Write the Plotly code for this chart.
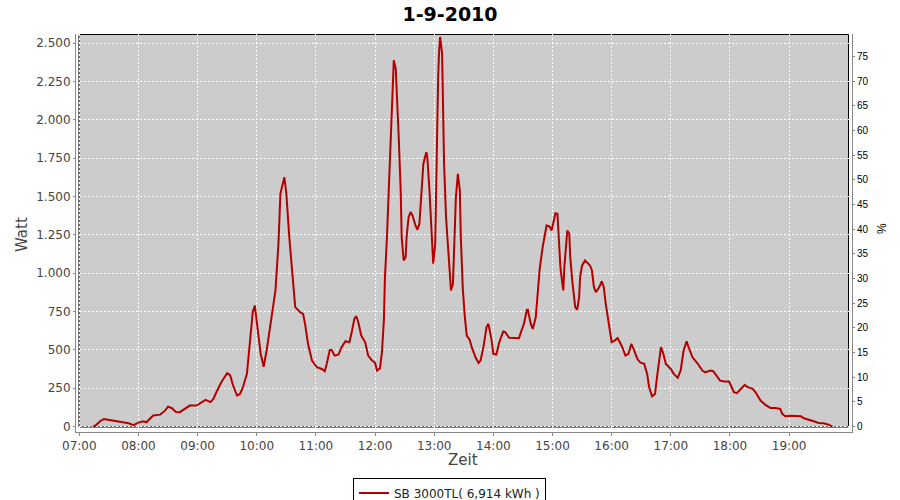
import plotly.graph_objects as go

# ---------------- data ----------------
day = "2010-09-01"
times = [
    "07:14", "07:17", "07:21", "07:25", "07:29", "07:35", "07:40", "07:45", "07:50", "07:55",
    "08:00", "08:05", "08:08", "08:15", "08:22", "08:27", "08:30", "08:34", "08:38", "08:42",
    "08:47", "08:52", "08:59", "09:04", "09:08", "09:13", "09:16", "09:19", "09:24", "09:30",
    "09:33", "09:36", "09:40", "09:43", "09:46", "09:50", "09:53", "09:56", "09:58", "10:01",
    "10:04", "10:07", "10:10", "10:14", "10:19", "10:22", "10:24", "10:28", "10:30", "10:33",
    "10:36", "10:39", "10:44", "10:47", "10:49", "10:52", "10:56", "11:01", "11:06", "11:09",
    "11:11", "11:14", "11:16", "11:19", "11:23", "11:26", "11:30", "11:34", "11:36", "11:39",
    "11:41", "11:43", "11:46", "11:50", "11:53", "11:57", "12:00", "12:02", "12:05", "12:07",
    "12:09", "12:10", "12:12", "12:14", "12:16", "12:17", "12:18", "12:19", "12:21", "12:22",
    "12:24", "12:26", "12:27", "12:29", "12:31", "12:32", "12:34", "12:36", "12:38", "12:41",
    "12:43", "12:45", "12:47", "12:49", "12:52", "12:53", "12:55", "12:58", "12:59", "13:01",
    "13:02", "13:04", "13:05", "13:06", "13:08", "13:09", "13:10", "13:12", "13:15", "13:17",
    "13:19", "13:20", "13:22", "13:24", "13:26", "13:27", "13:29", "13:31", "13:33", "13:36",
    "13:38", "13:42", "13:45", "13:47", "13:50", "13:53", "13:55", "13:58", "14:00", "14:03",
    "14:06", "14:10", "14:12", "14:16", "14:21", "14:26", "14:28", "14:31", "14:34", "14:35",
    "14:38", "14:40", "14:43", "14:45", "14:47", "14:50", "14:52", "14:54", "14:57", "14:59",
    "15:01", "15:03", "15:05", "15:06", "15:08", "15:10", "15:11", "15:12", "15:14", "15:15",
    "15:17", "15:18", "15:20", "15:22", "15:23", "15:25", "15:27", "15:28", "15:30", "15:33",
    "15:35", "15:38", "15:40", "15:42", "15:44", "15:47", "15:50", "15:52", "15:54", "15:56",
    "15:59", "16:00", "16:03", "16:06", "16:10", "16:14", "16:17", "16:20", "16:22", "16:26",
    "16:29", "16:33", "16:36", "16:38", "16:41", "16:44", "16:46", "16:48", "16:50", "16:52",
    "16:55", "17:00", "17:03", "17:07", "17:10", "17:13", "17:16", "17:18", "17:22", "17:27",
    "17:32", "17:35", "17:40", "17:43", "17:46", "17:50", "17:54", "17:59", "18:01", "18:04",
    "18:07", "18:11", "18:15", "18:18", "18:23", "18:26", "18:31", "18:36", "18:41", "18:46",
    "18:51", "18:53", "18:56", "19:01", "19:08", "19:12", "19:15", "19:20", "19:25", "19:30",
    "19:35", "19:40", "19:44",
]
watts = [
    0, 10, 35, 50, 45, 38, 33, 30, 22, 10,
    26, 35, 28, 72, 78, 104, 130, 120, 95, 94,
    115, 137, 137, 159, 174, 160, 181, 224, 289, 348,
    335, 268, 202, 213, 257, 344, 561, 750, 790, 648,
    474, 390, 496, 670, 890, 1192, 1519, 1627, 1519, 1236,
    975, 779, 746, 735, 670, 540, 431, 387, 376, 361,
    409, 500, 500, 463, 470, 518, 557, 550, 605, 703,
    720, 681, 594, 550, 463, 431, 416, 366, 380, 485,
    700, 970, 1225, 1584, 1845, 2052, 2215, 2389, 2335, 2215,
    1889, 1540, 1236, 1084, 1105, 1236, 1366, 1399, 1377, 1312,
    1284, 1323, 1497, 1715, 1790, 1758, 1562, 1236, 1062, 1192,
    1671, 2280, 2454, 2541, 2433, 2084, 1715, 1366, 1105, 888,
    931, 1170, 1497, 1649, 1540, 1236, 900, 720, 594, 566,
    520, 450, 415, 431, 520, 648, 670, 572, 474, 470,
    550, 620, 616, 579, 577, 577, 616, 670, 762, 762,
    670, 637, 713, 866, 1029, 1170, 1247, 1312, 1305, 1279,
    1334, 1392, 1388, 1236, 1040, 931, 888, 1040, 1214, 1279,
    1258, 1105, 953, 844, 779, 762, 844, 975, 1051, 1084,
    1068, 1051, 1018, 909, 877, 905, 948, 909, 801, 713,
    605, 550, 561, 577, 529, 463, 474, 540, 510, 442,
    418, 409, 344, 257, 198, 213, 322, 442, 518, 485,
    409, 376, 344, 318, 366, 496, 557, 518, 452, 413,
    366, 354, 366, 361, 333, 300, 294, 294, 268, 224,
    218, 246, 272, 257, 246, 224, 170, 142, 122, 122,
    115, 83, 67, 70, 70, 67, 54, 46, 35, 24,
    22, 13, 0,
]
series_name = "SB 3000TL( 6,914 kWh )"
title_text = "1-9-2010"

y_tickvals = [0, 250, 500, 750, 1000, 1250, 1500, 1750, 2000, 2250, 2500]
y_ticktext = ["0", "250", "500", "750", "1.000", "1.250", "1.500", "1.750", "2.000", "2.250", "2.500"]
pct_tickvals = [0, 5, 10, 15, 20, 25, 30, 35, 40, 45, 50, 55, 60, 65, 70, 75]
x_ticklabels = ["07:00", "08:00", "09:00", "10:00", "11:00", "12:00", "13:00",
                "14:00", "15:00", "16:00", "17:00", "18:00", "19:00"]

# ---------------- figure ----------------
x = [f"{day} {t}" for t in times]
x_tickvals = [f"{day} {t}" for t in x_ticklabels]

LINE = "#B40000"
AXIS = "#888888"
TXT = "#444444"
FONT = "DejaVu Sans"

FIG_W, FIG_H = 900, 500

fig = go.Figure()
fig.add_trace(go.Scatter(
    x=x, y=watts, mode="lines", name=series_name,
    line=dict(color=LINE, width=2),
))
# helper (invisible) so the secondary % axis is drawn
fig.add_trace(go.Scatter(
    x=[x[0]], y=[pct_tickvals[0]], yaxis="y2", mode="markers",
    marker=dict(opacity=0), showlegend=False, hoverinfo="skip",
))

fig.update_layout(
    width=FIG_W, height=FIG_H,
    margin=dict(l=76, r=48, t=34, b=68, autoexpand=False),
    paper_bgcolor="white",
    plot_bgcolor="white",
    font=dict(family=FONT, color=TXT, size=12),
    title=dict(text=f"<b>{title_text}</b>", x=450 / FIG_W, xref="container", xanchor="center",
               y=1 - 14 / FIG_H, yref="container", yanchor="middle",
               font=dict(family=FONT, size=19, color="black")),
    xaxis=dict(
        type="date",
        range=[f"{day} 06:56:39", f"{day} 20:03:47"],
        tickvals=x_tickvals, ticktext=x_ticklabels,
        showgrid=True, gridcolor="white", griddash="2px,2px", gridwidth=1,
        showline=True, linecolor=AXIS, linewidth=1,
        ticks="outside", ticklen=3, tickcolor=AXIS,
        tickfont=dict(family=FONT, size=12, color=TXT),
        zeroline=False,
    ),
    yaxis=dict(
        range=[-35.2, 2560.5],
        tickvals=y_tickvals, ticktext=y_ticktext,
        showgrid=True, gridcolor="white", griddash="2px,2px", gridwidth=1,
        showline=True, linecolor=AXIS, linewidth=1,
        ticks="outside", ticklen=2, tickcolor=AXIS,
        tickfont=dict(family=FONT, size=12, color=TXT),
        zeroline=False,
    ),
    yaxis2=dict(
        overlaying="y", side="right",
        range=[-1.095, 79.59],
        tickvals=pct_tickvals,
        showgrid=False, zeroline=False,
        showline=True, linecolor=AXIS, linewidth=1,
        ticks="outside", ticklen=2, tickcolor=AXIS,
        tickfont=dict(family="Liberation Sans", size=10, color="black"),
    ),
    showlegend=True,
    legend=dict(
        x=(449.5 - 76) / 776, xanchor="center",
        y=(432 - 477.5) / 398, yanchor="top",
        orientation="h",
        bordercolor="black", borderwidth=1, bgcolor="white",
        font=dict(family=FONT, size=12, color="#222222"),
        itemwidth=30,
    ),
    shapes=[dict(
        type="rect", xref="paper", yref="paper", layer="below",
        x0=3 / 776, x1=772.5 / 776, y0=5 / 398, y1=1 - 0.5 / 398,
        fillcolor="#CCCCCC", line=dict(color="black", width=1),
    )],
    annotations=[
        dict(text="Watt", textangle=-90, xref="paper", yref="paper",
             x=(22 - 76) / 776, y=(432 - 235) / 398, showarrow=False,
             xanchor="center", yanchor="middle",
             font=dict(family=FONT, size=15, color=TXT)),
        dict(text="Zeit", xref="paper", yref="paper",
             x=(463 - 76) / 776, y=(432 - 460) / 398, showarrow=False,
             xanchor="center", yanchor="middle",
             font=dict(family=FONT, size=15, color=TXT)),
        dict(text="%", textangle=-90, xref="paper", yref="paper",
             x=(882 - 76) / 776, y=(432 - 229) / 398, showarrow=False,
             xanchor="center", yanchor="middle",
             font=dict(family="Liberation Sans", size=12, color="black")),
    ],
)

# remove the page's default 8px body margin so the 900x500 figure fills the window
fig.write_html("out.html", config={"displayModeBar": False},
               post_script="document.body.style.margin='0px';")
